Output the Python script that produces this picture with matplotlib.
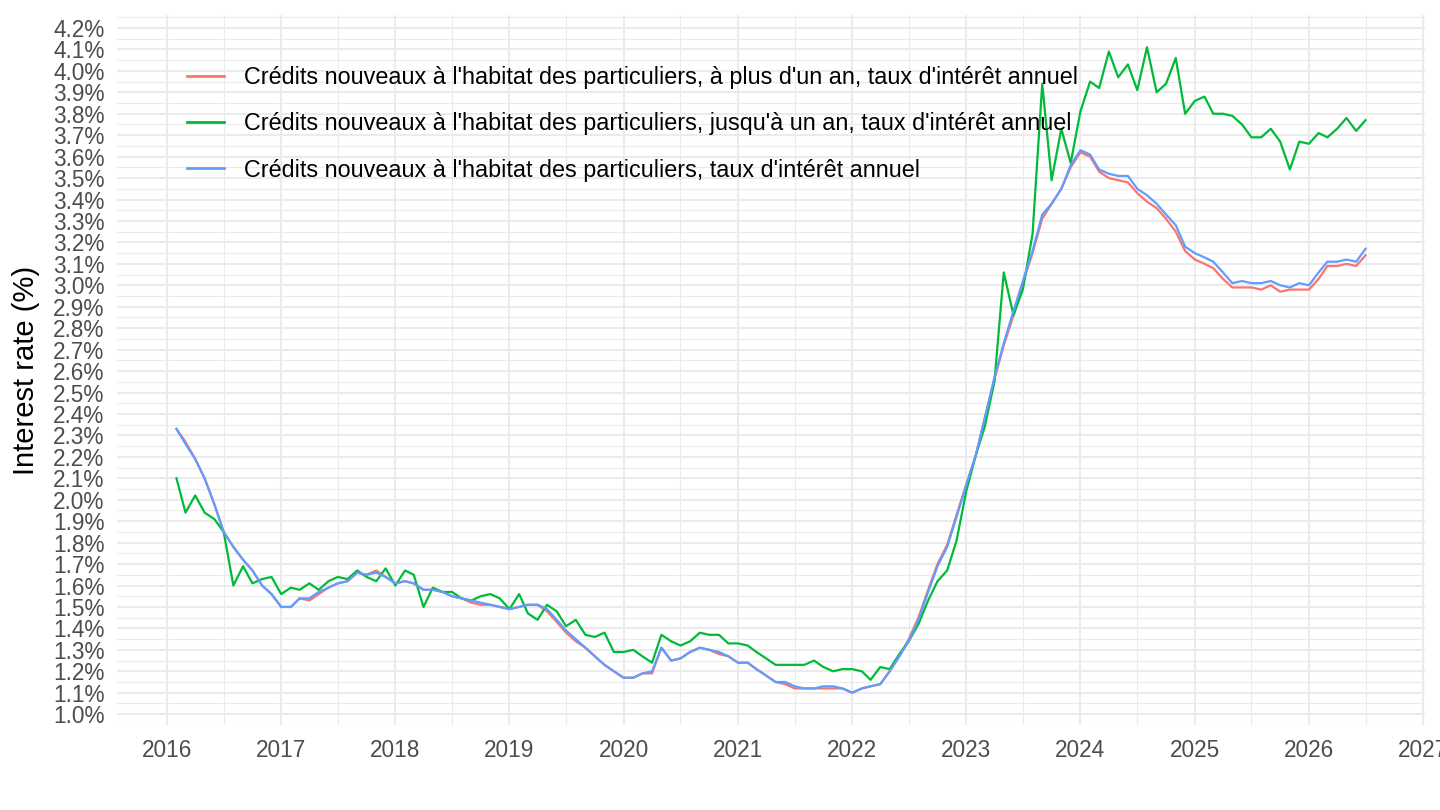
import numpy as np
import pandas as pd
import matplotlib
matplotlib.use("Agg")
import matplotlib.pyplot as plt
import matplotlib.dates as mdates
from matplotlib.ticker import MultipleLocator, FuncFormatter

# ---------------- data ----------------
start_month = "2016-02-01"
n_months = 126

series_labels = [
    "Crédits nouveaux à l'habitat des particuliers, à plus d'un an, taux d'intérêt annuel",
    "Crédits nouveaux à l'habitat des particuliers, jusqu'à un an, taux d'intérêt annuel",
    "Crédits nouveaux à l'habitat des particuliers, taux d'intérêt annuel",
]
series_colors = ["#F8766D", "#00BA38", "#619CFF"]

plus_un_an = [
    2.33, 2.27, 2.19, 2.10, 1.98, 1.85, 1.78, 1.72, 1.67, 1.60,
    1.56, 1.50, 1.50, 1.54, 1.53, 1.56, 1.59, 1.61, 1.62, 1.66,
    1.65, 1.67, 1.64, 1.61, 1.62, 1.61, 1.58, 1.58, 1.57, 1.55,
    1.54, 1.52, 1.51, 1.51, 1.50, 1.49, 1.50, 1.51, 1.51, 1.48,
    1.43, 1.38, 1.34, 1.31, 1.27, 1.23, 1.20, 1.17, 1.17, 1.19,
    1.19, 1.31, 1.25, 1.26, 1.29, 1.31, 1.30, 1.28, 1.27, 1.24,
    1.24, 1.21, 1.18, 1.15, 1.14, 1.12, 1.12, 1.12, 1.12, 1.12,
    1.12, 1.10, 1.12, 1.13, 1.14, 1.20, 1.27, 1.35, 1.45, 1.58,
    1.70, 1.79, 1.93, 2.07, 2.21, 2.38, 2.56, 2.72, 2.86, 3.01,
    3.15, 3.31, 3.38, 3.45, 3.55, 3.62, 3.60, 3.53, 3.50, 3.49,
    3.48, 3.43, 3.39, 3.36, 3.31, 3.25, 3.16, 3.12, 3.10, 3.08,
    3.03, 2.99, 2.99, 2.99, 2.98, 3.00, 2.97, 2.98, 2.98, 2.98,
    3.03, 3.09, 3.09, 3.10, 3.09, 3.14,
]

jusqu_un_an = [
    2.10, 1.94, 2.02, 1.94, 1.91, 1.85, 1.60, 1.69, 1.61, 1.63,
    1.64, 1.56, 1.59, 1.58, 1.61, 1.58, 1.62, 1.64, 1.63, 1.67,
    1.64, 1.62, 1.68, 1.60, 1.67, 1.65, 1.50, 1.59, 1.57, 1.57,
    1.54, 1.53, 1.55, 1.56, 1.54, 1.49, 1.56, 1.47, 1.44, 1.51,
    1.48, 1.41, 1.44, 1.37, 1.36, 1.38, 1.29, 1.29, 1.30, 1.27,
    1.24, 1.37, 1.34, 1.32, 1.34, 1.38, 1.37, 1.37, 1.33, 1.33,
    1.32, 1.29, 1.26, 1.23, 1.23, 1.23, 1.23, 1.25, 1.22, 1.20,
    1.21, 1.21, 1.20, 1.16, 1.22, 1.21, 1.28, 1.34, 1.42, 1.53,
    1.62, 1.67, 1.81, 2.04, 2.21, 2.34, 2.55, 3.06, 2.86, 2.98,
    3.24, 3.94, 3.49, 3.73, 3.57, 3.81, 3.95, 3.92, 4.09, 3.97,
    4.03, 3.91, 4.11, 3.90, 3.94, 4.06, 3.80, 3.86, 3.88, 3.80,
    3.80, 3.79, 3.75, 3.69, 3.69, 3.73, 3.67, 3.54, 3.67, 3.66,
    3.71, 3.69, 3.73, 3.78, 3.72, 3.77,
]

ensemble = [
    2.33, 2.26, 2.19, 2.10, 1.98, 1.85, 1.78, 1.72, 1.67, 1.60,
    1.56, 1.50, 1.50, 1.54, 1.54, 1.57, 1.59, 1.61, 1.62, 1.66,
    1.65, 1.66, 1.64, 1.61, 1.62, 1.61, 1.58, 1.58, 1.57, 1.55,
    1.54, 1.53, 1.52, 1.51, 1.50, 1.49, 1.50, 1.51, 1.51, 1.49,
    1.44, 1.39, 1.35, 1.31, 1.27, 1.23, 1.20, 1.17, 1.17, 1.19,
    1.20, 1.31, 1.25, 1.26, 1.29, 1.31, 1.30, 1.29, 1.27, 1.24,
    1.24, 1.21, 1.18, 1.15, 1.15, 1.13, 1.12, 1.12, 1.13, 1.13,
    1.12, 1.10, 1.12, 1.13, 1.14, 1.20, 1.27, 1.34, 1.44, 1.57,
    1.69, 1.78, 1.92, 2.07, 2.21, 2.38, 2.57, 2.73, 2.88, 3.02,
    3.16, 3.33, 3.38, 3.45, 3.56, 3.63, 3.61, 3.54, 3.52, 3.51,
    3.51, 3.45, 3.42, 3.38, 3.33, 3.28, 3.18, 3.15, 3.13, 3.11,
    3.06, 3.01, 3.02, 3.01, 3.01, 3.02, 3.00, 2.99, 3.01, 3.00,
    3.06, 3.11, 3.11, 3.12, 3.11, 3.17,
]

series_values = [plus_un_an, jusqu_un_an, ensemble]
dates = pd.date_range(start_month, periods=n_months, freq="MS")

# ---------------- style ----------------
FONT = ["Liberation Sans", "DejaVu Sans"]
plt.rcParams["font.family"] = FONT
GRID = "#EBEBEB"
TICKC = "#4D4D4D"

fig = plt.figure(figsize=(14.4, 8.1), dpi=100)
ax = fig.add_axes([117 / 1440, 85 / 810, (1425 - 117) / 1440, (725 - 15) / 810])

for vals, lab, col in zip(series_values, series_labels, series_colors):
    ax.plot(dates, vals, color=col, lw=1.6, label=lab, solid_joinstyle="round")

# ggplot-like 5% expansion
xnum = mdates.date2num(dates)
xr = xnum.max() - xnum.min()
ax.set_xlim(xnum.min() - 0.05 * xr, xnum.max() + 0.05 * xr)
allv = np.concatenate([np.array(v) for v in series_values])
yr = allv.max() - allv.min()
ax.set_ylim(allv.min() - 0.05 * yr, allv.max() + 0.05 * yr)

ax.xaxis.set_major_locator(mdates.YearLocator())
ax.xaxis.set_major_formatter(mdates.DateFormatter("%Y"))
ax.xaxis.set_minor_locator(mdates.MonthLocator(bymonth=7))
ax.yaxis.set_major_locator(MultipleLocator(0.1))
ax.yaxis.set_minor_locator(MultipleLocator(0.05))
ax.yaxis.set_major_formatter(FuncFormatter(lambda v, p: f"{v:.1f}%"))

ax.grid(which="major", color=GRID, lw=1.5)
ax.grid(which="minor", color=GRID, lw=0.8)
ax.set_axisbelow(True)
for s in ax.spines.values():
    s.set_visible(False)
ax.tick_params(which="both", length=0)
ax.tick_params(axis="both", labelsize=16.3, labelcolor=TICKC)
ax.tick_params(axis="y", pad=9)
ax.tick_params(axis="x", pad=10)

ax.set_ylabel("Interest rate (%)", fontsize=21, color="black", labelpad=9)

leg = ax.legend(loc="upper left", bbox_to_anchor=(187 / 1440, 1 - 66 / 810),
                bbox_transform=fig.transFigure, frameon=False, fontsize=16.8,
                handlelength=1.6, handletextpad=0.85, labelspacing=1.0,
                borderpad=0, borderaxespad=0)
for h in leg.get_lines():
    h.set_linewidth(2.0)

fig.savefig("out.png", dpi=100, facecolor="white")
